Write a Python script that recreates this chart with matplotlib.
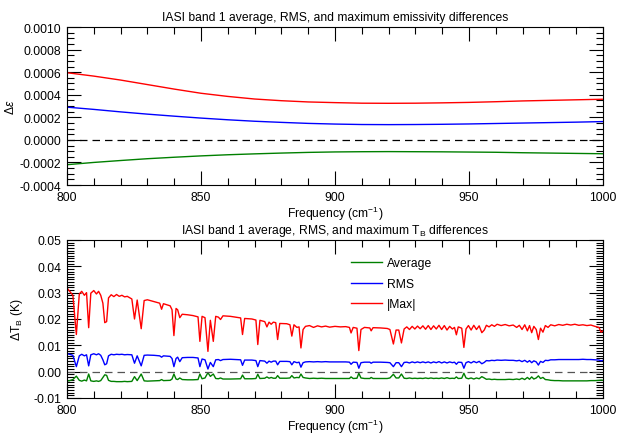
import matplotlib.pyplot as plt
from matplotlib.ticker import MultipleLocator, FormatStrFormatter

plt.rcParams['font.family'] = ['Liberation Sans', 'DejaVu Sans']
plt.rcParams['mathtext.fontset'] = 'custom'
plt.rcParams['mathtext.rm'] = 'Liberation Sans'
plt.rcParams['mathtext.it'] = 'Liberation Sans:italic'
FS = 8.7

# emissivity differences (smooth, every 10 cm-1)
em_freq = [800, 810, 820, 830, 840, 850, 860, 870, 880, 890, 900,
           910, 920, 930, 940, 950, 960, 970, 980, 990, 1000]
em_max = [0.000595, 0.000565, 0.000530, 0.000490, 0.000450, 0.000413, 0.000385,
          0.000362, 0.000347, 0.000336, 0.000330, 0.000325, 0.000324, 0.000325,
          0.000328, 0.000332, 0.000338, 0.000345, 0.000350, 0.000355, 0.000360]
em_rms = [0.000290, 0.000270, 0.000248, 0.000228, 0.000210, 0.000193, 0.000178,
          0.000165, 0.000155, 0.000146, 0.000140, 0.000136, 0.000135, 0.000136,
          0.000138, 0.000141, 0.000145, 0.000149, 0.000153, 0.000157, 0.000162]
em_avg = [-0.000220, -0.000200, -0.000183, -0.000167, -0.000154, -0.000142, -0.000132,
          -0.000124, -0.000117, -0.000111, -0.000107, -0.000105, -0.000104, -0.000105,
          -0.000106, -0.000108, -0.000110, -0.000114, -0.000117, -0.000120, -0.000123]

# brightness temperature differences (K)
tb_freq = [800.0, 801.0, 802.2, 803.5, 804.6, 805.5, 806.5, 807.3, 808.1, 808.9,
           810.0, 811.0, 811.8, 812.6, 813.4, 814.1, 814.8, 815.5, 816.5, 817.5,
           818.5, 819.5, 820.5, 821.5, 822.5, 824.2, 825.2, 826.2, 827.7, 828.8,
           830.0, 832.5, 834.6, 835.3, 836.0, 838.5, 839.2, 839.9, 840.7, 841.3,
           842.1, 843.0, 845.0, 847.0, 848.9, 849.6, 850.4, 851.5, 852.6, 853.5,
           854.6, 855.5, 856.5, 857.3, 858.2, 861.0, 864.8, 865.5, 866.3, 869.0,
           870.5, 871.2, 872.0, 873.8, 874.6, 875.4, 876.2, 877.0, 877.9, 878.6,
           879.4, 882.0, 883.2, 883.9, 884.7, 885.8, 886.6, 887.3, 888.1, 889.0,
           890.5, 892.0, 893.5, 895.0, 896.5, 898.0, 900.0, 902.0, 904.0, 905.4,
           906.0, 906.8, 908.2, 908.9, 909.7, 911.0, 913.0, 913.5, 914.2, 917.0,
           919.5, 920.5, 921.8, 922.8, 923.8, 924.8, 925.8, 926.8, 927.8, 928.8,
           929.8, 930.8, 931.8, 932.8, 933.8, 934.8, 935.8, 936.8, 937.8, 938.8,
           939.8, 940.8, 941.8, 942.8, 943.8, 944.6, 945.3, 946.0, 947.3, 948.1,
           948.9, 949.8, 950.8, 951.8, 952.8, 953.8, 954.8, 955.7, 956.5, 957.5,
           958.5, 959.5, 960.5, 962.0, 963.5, 965.0, 966.5, 967.8, 968.8, 969.8,
           970.8, 971.8, 972.6, 973.4, 974.2, 975.1, 975.9, 976.7, 977.6, 978.5,
           979.5, 980.5, 982.0, 983.5, 985.0, 986.5, 988.0, 989.5, 991.0, 992.5,
           994.0, 995.5, 997.0, 998.5, 999.3, 1000.0]
tb_max = [0.0318, 0.0305, 0.0290, 0.0141, 0.0295, 0.0305, 0.0290, 0.0300, 0.0167, 0.0298,
          0.0308, 0.0295, 0.0305, 0.0290, 0.0260, 0.0186, 0.0190, 0.0280, 0.0292, 0.0285,
          0.0293, 0.0286, 0.0290, 0.0284, 0.0286, 0.0276, 0.0200, 0.0272, 0.0163, 0.0270,
          0.0273, 0.0266, 0.0260, 0.0237, 0.0258, 0.0250, 0.0235, 0.0137, 0.0240, 0.0235,
          0.0205, 0.0218, 0.0216, 0.0213, 0.0208, 0.0115, 0.0210, 0.0205, 0.0077, 0.0195,
          0.0115, 0.0210, 0.0207, 0.0198, 0.0212, 0.0210, 0.0204, 0.0141, 0.0202, 0.0200,
          0.0196, 0.0103, 0.0195, 0.0190, 0.0170, 0.0188, 0.0180, 0.0188, 0.0186, 0.0122,
          0.0183, 0.0182, 0.0178, 0.0135, 0.0178, 0.0168, 0.0170, 0.0090, 0.0160, 0.0172,
          0.0175, 0.0168, 0.0174, 0.0170, 0.0173, 0.0169, 0.0172, 0.0170, 0.0171, 0.0168,
          0.0147, 0.0168, 0.0165, 0.0080, 0.0160, 0.0168, 0.0166, 0.0155, 0.0167, 0.0166,
          0.0164, 0.0160, 0.0105, 0.0158, 0.0158, 0.0109, 0.0162, 0.0170, 0.0160, 0.0172,
          0.0162, 0.0173, 0.0163, 0.0174, 0.0161, 0.0175, 0.0160, 0.0174, 0.0162, 0.0176,
          0.0160, 0.0175, 0.0158, 0.0172, 0.0162, 0.0168, 0.0140, 0.0170, 0.0165, 0.0092,
          0.0162, 0.0175, 0.0158, 0.0176, 0.0160, 0.0174, 0.0148, 0.0158, 0.0176, 0.0170,
          0.0178, 0.0172, 0.0180, 0.0175, 0.0179, 0.0174, 0.0177, 0.0168, 0.0176, 0.0160,
          0.0178, 0.0155, 0.0175, 0.0148, 0.0172, 0.0160, 0.0122, 0.0165, 0.0150, 0.0175,
          0.0168, 0.0178, 0.0174, 0.0179, 0.0176, 0.0180, 0.0177, 0.0180, 0.0176, 0.0178,
          0.0175, 0.0177, 0.0172, 0.0168, 0.0150, 0.0155]
tb_rms = [0.0068, 0.0066, 0.0062, 0.0019, 0.0060, 0.0066, 0.0060, 0.0064, 0.0022, 0.0064,
          0.0068, 0.0064, 0.0068, 0.0062, 0.0045, 0.0026, 0.0030, 0.0060, 0.0066, 0.0064,
          0.0066, 0.0065, 0.0066, 0.0064, 0.0065, 0.0064, 0.0032, 0.0060, 0.0022, 0.0062,
          0.0063, 0.0062, 0.0060, 0.0055, 0.0060, 0.0058, 0.0050, 0.0019, 0.0050, 0.0055,
          0.0038, 0.0053, 0.0054, 0.0054, 0.0052, 0.0019, 0.0048, 0.0045, 0.0010, 0.0035,
          0.0019, 0.0045, 0.0046, 0.0042, 0.0046, 0.0047, 0.0045, 0.0024, 0.0044, 0.0044,
          0.0042, 0.0019, 0.0042, 0.0040, 0.0032, 0.0040, 0.0036, 0.0040, 0.0040, 0.0026,
          0.0039, 0.0039, 0.0038, 0.0026, 0.0038, 0.0034, 0.0036, 0.0017, 0.0034, 0.0037,
          0.0038, 0.0037, 0.0038, 0.0037, 0.0038, 0.0037, 0.0037, 0.0037, 0.0037, 0.0036,
          0.0028, 0.0036, 0.0035, 0.0013, 0.0034, 0.0036, 0.0036, 0.0032, 0.0036, 0.0036,
          0.0035, 0.0034, 0.0019, 0.0034, 0.0034, 0.0019, 0.0035, 0.0036, 0.0033, 0.0037,
          0.0034, 0.0037, 0.0034, 0.0037, 0.0034, 0.0037, 0.0033, 0.0037, 0.0034, 0.0038,
          0.0033, 0.0037, 0.0033, 0.0037, 0.0034, 0.0036, 0.0028, 0.0036, 0.0035, 0.0013,
          0.0034, 0.0038, 0.0033, 0.0039, 0.0034, 0.0039, 0.0030, 0.0035, 0.0042, 0.0041,
          0.0043, 0.0042, 0.0044, 0.0043, 0.0044, 0.0043, 0.0043, 0.0041, 0.0043, 0.0038,
          0.0043, 0.0036, 0.0042, 0.0034, 0.0041, 0.0037, 0.0025, 0.0039, 0.0035, 0.0043,
          0.0042, 0.0045, 0.0045, 0.0046, 0.0046, 0.0046, 0.0046, 0.0046, 0.0046, 0.0047,
          0.0046, 0.0046, 0.0045, 0.0044, 0.0041, 0.0043]
tb_avg = [-0.0036, -0.0034, -0.0030, -0.0017, -0.0033, -0.0036, -0.0032, -0.0035, -0.0009, -0.0035,
          -0.0037, -0.0035, -0.0037, -0.0034, -0.0022, -0.0012, -0.0014, -0.0033, -0.0037, -0.0037,
          -0.0038, -0.0038, -0.0038, -0.0037, -0.0038, -0.0037, -0.0019, -0.0034, -0.0009, -0.0035,
          -0.0036, -0.0035, -0.0034, -0.0030, -0.0034, -0.0033, -0.0028, -0.0009, -0.0028, -0.0030,
          -0.0024, -0.0030, -0.0031, -0.0031, -0.0030, -0.0009, -0.0027, -0.0024, -0.0004, -0.0018,
          -0.0009, -0.0026, -0.0027, -0.0024, -0.0028, -0.0028, -0.0027, -0.0013, -0.0027, -0.0027,
          -0.0026, -0.0010, -0.0026, -0.0025, -0.0020, -0.0025, -0.0022, -0.0025, -0.0025, -0.0015,
          -0.0025, -0.0025, -0.0024, -0.0015, -0.0024, -0.0022, -0.0023, -0.0009, -0.0022, -0.0024,
          -0.0026, -0.0025, -0.0026, -0.0025, -0.0026, -0.0026, -0.0026, -0.0026, -0.0026, -0.0026,
          -0.0020, -0.0026, -0.0025, -0.0006, -0.0024, -0.0026, -0.0026, -0.0022, -0.0026, -0.0026,
          -0.0026, -0.0024, -0.0010, -0.0024, -0.0024, -0.0009, -0.0025, -0.0026, -0.0024, -0.0026,
          -0.0025, -0.0026, -0.0025, -0.0026, -0.0024, -0.0026, -0.0024, -0.0026, -0.0025, -0.0026,
          -0.0024, -0.0026, -0.0023, -0.0026, -0.0025, -0.0026, -0.0020, -0.0026, -0.0025, -0.0006,
          -0.0024, -0.0027, -0.0024, -0.0028, -0.0024, -0.0027, -0.0019, -0.0024, -0.0029, -0.0028,
          -0.0030, -0.0029, -0.0030, -0.0030, -0.0030, -0.0029, -0.0030, -0.0028, -0.0030, -0.0025,
          -0.0030, -0.0022, -0.0029, -0.0020, -0.0028, -0.0024, -0.0016, -0.0026, -0.0022, -0.0030,
          -0.0031, -0.0033, -0.0034, -0.0034, -0.0035, -0.0035, -0.0035, -0.0035, -0.0035, -0.0035,
          -0.0035, -0.0034, -0.0034, -0.0033, -0.0032, -0.0033]


def style_axes(ax, ymaj, ymin, yfmt):
    ax.set_xlim(800, 1000)
    ax.xaxis.set_major_locator(MultipleLocator(50))
    ax.xaxis.set_minor_locator(MultipleLocator(10))
    ax.yaxis.set_major_locator(MultipleLocator(ymaj))
    ax.yaxis.set_minor_locator(MultipleLocator(ymin))
    ax.yaxis.set_major_formatter(FormatStrFormatter(yfmt))
    ax.tick_params(which='both', direction='in', top=True, right=True,
                   labelsize=FS, width=0.8, pad=4)
    ax.tick_params(which='major', length=10)
    ax.tick_params(which='minor', length=5)
    for s in ax.spines.values():
        s.set_linewidth(0.8)
    ax.set_xlabel('Frequency (cm$^{-1}$)', fontsize=FS, labelpad=1)


fig = plt.figure(figsize=(6.3, 4.35), dpi=100)
ax1 = fig.add_axes([0.1063, 0.5724, 0.8508, 0.3632])
ax2 = fig.add_axes([0.1063, 0.0828, 0.8508, 0.3632])

# top: emissivity
ax1.plot(em_freq, em_avg, color='green', lw=1.0)
ax1.plot(em_freq, em_rms, color='blue', lw=1.0)
ax1.plot(em_freq, em_max, color='red', lw=1.0)
ax1.axhline(0, color='black', lw=0.9, ls=(0, (6, 4)))
ax1.set_ylim(-0.0004, 0.0010)
style_axes(ax1, 0.0002, 0.00005, '%.4f')
ax1.set_ylabel(r'$\Delta\epsilon$', fontsize=FS)
ax1.yaxis.set_label_coords(-0.093, 0.5)
ax1.set_title('IASI band 1 average, RMS, and maximum emissivity differences',
              fontsize=FS, pad=5)

# bottom: brightness temperature
ax2.plot(tb_freq, tb_avg, color='green', lw=1.0, label='Average')
ax2.plot(tb_freq, tb_rms, color='blue', lw=1.0, label='RMS')
ax2.plot(tb_freq, tb_max, color='red', lw=1.0, label='|Max|')
ax2.axhline(0, color='#555555', lw=0.9, ls=(0, (6, 4)))
ax2.set_ylim(-0.01, 0.05)
style_axes(ax2, 0.01, 0.001, '%.2f')
ax2.set_ylabel(r'$\Delta$T$_\mathrm{B}$ (K)', fontsize=FS)
ax2.yaxis.set_label_coords(-0.078, 0.5)
ax2.set_title('IASI band 1 average, RMS, and maximum T$_\\mathrm{B}$ differences',
              fontsize=FS, pad=5)
ax2.legend(loc='upper left', bbox_to_anchor=(0.52, 0.92), frameon=False,
           fontsize=FS, handlelength=2.6, handletextpad=0.4, labelspacing=0.7,
           borderaxespad=0)

fig.savefig('out.png', dpi=100)
